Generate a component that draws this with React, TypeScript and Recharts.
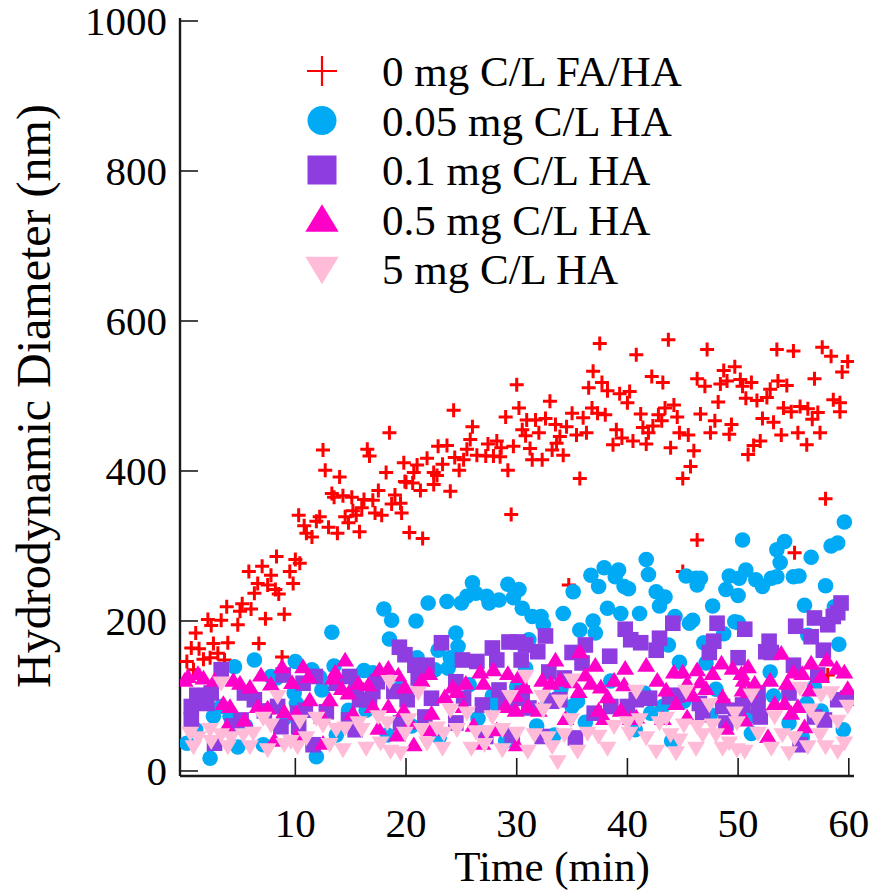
import React from 'react';
import { ScatterChart, Scatter, XAxis, YAxis, Legend } from 'recharts';

// time (min) ticks and diameter (nm) ticks
const xTicks = [10, 20, 30, 40, 50, 60];
const yTicks = [0, 200, 400, 600, 800, 1000];

// [time min, diameter nm]
const noHa: [number, number][] = [
  [0.2, 146], [0.6, 164], [0.8, 135], [1.0, 184], [1.3, 163], [1.7, 149], [2.1, 202], [2.3, 151], [2.4, 194],
  [2.6, 170], [3.0, 157], [3.3, 201], [3.6, 148], [3.8, 219], [3.9, 171], [4.8, 195], [5.0, 213], [5.2, 223],
  [5.8, 266], [6.0, 216], [6.3, 237], [6.6, 250], [6.7, 170], [7.0, 273], [7.3, 203], [7.5, 248], [7.8, 261],
  [8.2, 242], [8.3, 286], [8.5, 236], [8.8, 152], [9.0, 209], [9.5, 266], [9.8, 250], [10.0, 282], [10.3, 341],
  [10.4, 277], [10.8, 327], [11.0, 317], [11.5, 312], [11.9, 333], [12.2, 339], [12.5, 428], [12.7, 401],
  [13.0, 325], [13.3, 370], [13.5, 365], [13.8, 317], [14.0, 392], [14.3, 367], [14.5, 339], [14.8, 331],
  [15.1, 365], [15.2, 347], [15.5, 341], [15.8, 319], [16.0, 351], [16.2, 362], [16.5, 429], [16.7, 420],
  [17.0, 361], [17.2, 344], [17.5, 374], [17.8, 341], [18.2, 398], [18.5, 451], [18.7, 356], [19.0, 368],
  [19.5, 357], [19.6, 344], [19.8, 411], [19.9, 386], [20.0, 385], [20.3, 318], [20.6, 384], [20.7, 398],
  [21.0, 408], [21.3, 374], [21.5, 310], [21.9, 417], [22.5, 398], [22.5, 382], [22.8, 394], [22.9, 433],
  [23.3, 409], [23.7, 434], [24.0, 373], [24.3, 481], [24.4, 418], [24.8, 401], [25.2, 415], [25.5, 429],
  [25.8, 442], [26.0, 459], [26.4, 421], [27.2, 420], [27.4, 436], [27.9, 420], [28.2, 440], [28.5, 419],
  [28.6, 431], [29.0, 472], [29.2, 401], [29.5, 342], [29.7, 433], [30.0, 515], [30.2, 484], [30.5, 455],
  [30.8, 447], [30.9, 468], [31.2, 430], [31.4, 415], [31.7, 468], [32.0, 451], [32.3, 415], [32.6, 470],
  [33.0, 493], [33.2, 428], [33.5, 462], [33.6, 437], [33.9, 446], [34.2, 421], [34.5, 459], [34.7, 248],
  [35.0, 477], [35.4, 448], [35.7, 390], [36.0, 471], [36.3, 451], [36.5, 511], [36.8, 484], [36.9, 533],
  [37.3, 477], [37.5, 570], [37.7, 518], [38.0, 475], [38.2, 507], [38.7, 435], [39.0, 455], [39.3, 503],
  [39.5, 444], [40.0, 491], [40.2, 506], [40.5, 440], [40.8, 555], [41.2, 476], [41.4, 458], [41.7, 436],
  [41.9, 451], [42.2, 526], [42.3, 460], [42.8, 475], [43.1, 467], [43.2, 518], [43.4, 484], [43.7, 575],
  [43.9, 431], [44.2, 488], [44.5, 472], [44.7, 451], [45.0, 390], [45.0, 266], [45.5, 448], [45.7, 406],
  [46.0, 427], [46.3, 523], [46.3, 308], [46.6, 476], [47.0, 513], [47.2, 562], [47.5, 451], [47.9, 467],
  [48.2, 492], [48.4, 516], [48.7, 534], [49.0, 520], [49.2, 449], [49.4, 462], [49.7, 539], [50.2, 522],
  [50.4, 513], [50.7, 497], [50.9, 422], [51.2, 518], [51.4, 434], [51.7, 494], [52.0, 440], [52.2, 470],
  [52.6, 498], [52.9, 509], [53.2, 465], [53.5, 562], [53.6, 520], [53.9, 448], [54.1, 484], [54.4, 514],
  [54.8, 479], [55.0, 560], [55.1, 291], [55.4, 451], [55.6, 486], [56.2, 435], [56.3, 483], [56.7, 469],
  [56.9, 523], [57.2, 478], [57.4, 451], [57.6, 565], [57.9, 363], [58.1, 128], [58.4, 553], [58.6, 495],
  [59.2, 491], [59.2, 479], [59.4, 532], [59.9, 546],
];

const ha005: [number, number][] = [
  [0.2, 37], [1.0, 55], [2.3, 17], [2.6, 73], [3.3, 86], [4.1, 73], [4.5, 139], [4.8, 32], [5.5, 60],
  [6.3, 148], [7.1, 35], [7.8, 126], [8.3, 124], [9.0, 70], [9.9, 104], [10.0, 146], [10.1, 90], [11.5, 135],
  [11.9, 19], [12.2, 125], [12.4, 108], [13.3, 185], [13.5, 140], [13.7, 48], [14.8, 81], [15.2, 124],
  [16.2, 134], [16.4, 81], [17.0, 131], [18.0, 216], [18.3, 48], [18.5, 176], [18.7, 201], [19.5, 111],
  [20.5, 60], [20.9, 200], [21.0, 151], [22.0, 224], [22.6, 135], [22.9, 161], [23.0, 45], [23.7, 226],
  [23.8, 137], [24.0, 151], [24.5, 184], [24.7, 166], [25.0, 224], [25.5, 233], [25.7, 115], [26.0, 251],
  [26.3, 237], [26.5, 70], [27.3, 233], [27.5, 224], [27.8, 100], [28.2, 88], [28.4, 228], [29.0, 40],
  [29.2, 249], [29.7, 231], [30.0, 112], [30.2, 242], [30.5, 217], [30.8, 137], [31.1, 175], [31.4, 206],
  [31.8, 60], [32.2, 206], [32.4, 195], [32.8, 95], [33.4, 48], [34.0, 110], [34.2, 210], [35.0, 86],
  [35.1, 239], [35.5, 93], [35.7, 188], [36.2, 65], [36.7, 261], [36.9, 200], [37.1, 184], [37.4, 246],
  [37.9, 271], [38.2, 217], [38.5, 120], [38.9, 259], [39.2, 268], [39.4, 210], [39.7, 246], [40.1, 243],
  [40.7, 55], [41.1, 210], [41.5, 104], [41.7, 282], [41.9, 262], [42.1, 77], [42.6, 239], [42.9, 220],
  [43.2, 86], [43.4, 232], [43.7, 168], [44.0, 40], [44.3, 206], [44.7, 145], [45.1, 93], [45.3, 260],
  [45.6, 197], [45.9, 201], [46.2, 257], [46.3, 248], [46.6, 257], [46.9, 171], [47.1, 144], [47.5, 75],
  [47.7, 220], [48.0, 109], [48.7, 183], [48.9, 242], [49.2, 260], [49.7, 199], [50.0, 234], [50.0, 198],
  [50.1, 257], [50.4, 308], [50.7, 268], [50.9, 72], [51.2, 50], [51.6, 255], [52.2, 246], [52.9, 132],
  [53.0, 257], [53.2, 100], [53.5, 259], [53.5, 295], [53.8, 278], [54.2, 306], [54.6, 64], [55.0, 259],
  [55.5, 260], [55.8, 45], [56.0, 221], [56.2, 90], [56.3, 181], [56.6, 285], [56.9, 112], [57.5, 80],
  [57.9, 247], [58.4, 300], [58.7, 219], [59.0, 304], [59.1, 169], [59.5, 55], [59.6, 332],
];

const ha01: [number, number][] = [
  [0.6, 86], [0.6, 68], [1.1, 101], [1.2, 97], [2.0, 90], [2.4, 104], [2.7, 37], [3.3, 135], [4.3, 60],
  [5.1, 68], [5.4, 104], [6.3, 95], [7.2, 80], [8.4, 86], [8.7, 59], [8.9, 128], [10.2, 77], [10.3, 59],
  [10.7, 117], [10.9, 81], [11.6, 35], [11.8, 126], [12.8, 79], [13.7, 117], [14.8, 68], [14.9, 126],
  [15.4, 55], [15.5, 108], [15.8, 95], [16.7, 95], [17.0, 106], [17.4, 119], [18.9, 106], [19.4, 165],
  [19.5, 64], [19.9, 155], [20.1, 95], [20.8, 141], [21.1, 124], [21.7, 72], [21.9, 141], [22.3, 97],
  [23.2, 171], [24.5, 119], [24.5, 64], [25.1, 148], [25.2, 97], [26.4, 146], [26.9, 88], [27.2, 46],
  [27.8, 164], [28.2, 148], [28.4, 108], [29.0, 90], [29.3, 172], [29.6, 48], [30.1, 172], [30.2, 97],
  [30.4, 148], [30.5, 104], [30.8, 168], [31.1, 84], [31.9, 159], [32.3, 46], [32.6, 180], [32.9, 132],
  [33.2, 93], [33.9, 95], [34.3, 124], [35.0, 158], [35.3, 44], [35.9, 144], [36.2, 168], [37.0, 77],
  [38.4, 153], [38.5, 86], [39.8, 189], [40.0, 86], [40.3, 175], [40.8, 95], [41.2, 171], [42.0, 97],
  [42.6, 161], [42.9, 177], [43.8, 99], [44.1, 197], [44.5, 101], [46.5, 90], [46.8, 75], [47.4, 158],
  [47.8, 173], [48.1, 197], [48.6, 86], [48.9, 64], [49.8, 81], [50.0, 151], [50.4, 88], [50.6, 189],
  [50.9, 97], [51.8, 104], [51.8, 86], [52.0, 72], [52.5, 159], [52.8, 173], [53.0, 158], [54.6, 104],
  [55.0, 141], [55.2, 193], [55.6, 35], [56.6, 179], [56.9, 204], [56.9, 72], [57.2, 128], [57.7, 161],
  [57.8, 68], [58.1, 195], [58.6, 206], [59.0, 211], [59.0, 95], [59.3, 224], [59.9, 97],
];

const ha05: [number, number][] = [
  [0.0, 121], [0.3, 126], [1.2, 130], [1.7, 124], [2.7, 121], [3.5, 90], [3.8, 59], [4.1, 86], [4.4, 121],
  [5.0, 117], [5.4, 68], [5.9, 112], [6.6, 86], [6.9, 128], [7.5, 84], [7.8, 116], [8.1, 41], [8.8, 139],
  [9.0, 79], [9.7, 118], [10.1, 77], [10.1, 46], [10.7, 139], [11.2, 126], [11.3, 95], [12.4, 72], [12.5, 37],
  [13.1, 95], [13.4, 124], [13.6, 132], [14.2, 110], [14.5, 148], [14.8, 104], [15.2, 77], [15.7, 117],
  [16.6, 115], [17.0, 86], [17.5, 57], [17.6, 135], [18.4, 137], [18.4, 86], [19.2, 48], [19.3, 128],
  [19.8, 81], [19.9, 112], [20.4, 64], [20.7, 35], [21.4, 121], [22.1, 130], [22.2, 55], [22.3, 77],
  [23.5, 99], [24.2, 112], [24.6, 106], [25.2, 86], [25.4, 117], [26.1, 61], [26.7, 132], [26.9, 37],
  [27.0, 117], [27.9, 135], [28.2, 55], [29.0, 86], [29.2, 130], [29.9, 101], [29.9, 81], [30.0, 35],
  [30.2, 126], [30.7, 112], [31.0, 86], [32.0, 81], [32.3, 121], [33.1, 117], [33.5, 148], [33.9, 121],
  [34.4, 70], [35.0, 119], [35.6, 106], [35.7, 159], [36.2, 128], [36.7, 117], [37.1, 141], [37.4, 81],
  [37.6, 112], [37.9, 70], [38.2, 99], [38.8, 121], [39.4, 81], [39.7, 115], [39.8, 137], [40.3, 70],
  [40.8, 72], [41.7, 141], [42.7, 121], [43.2, 70], [43.5, 108], [44.2, 132], [44.4, 90], [45.0, 132],
  [45.4, 117], [45.4, 72], [45.9, 101], [46.3, 135], [46.6, 119], [47.1, 110], [47.7, 130], [48.5, 144],
  [48.6, 99], [48.9, 57], [49.5, 137], [50.3, 130], [50.4, 108], [50.5, 121], [50.6, 68], [50.9, 139],
  [51.0, 106], [51.5, 117], [52.7, 46], [52.9, 121], [53.3, 90], [53.9, 157], [54.2, 90], [54.4, 117],
  [54.8, 77], [55.0, 132], [55.4, 86], [55.8, 130], [56.0, 59], [56.5, 108], [56.6, 144], [57.5, 126],
  [58.0, 148], [58.9, 137], [59.6, 132], [59.9, 110],
];

const ha5: [number, number][] = [
  [0.5, 50], [0.8, 32], [1.2, 44], [2.3, 55], [2.4, 39], [3.3, 117], [3.3, 48], [3.9, 32], [4.2, 44],
  [5.3, 48], [5.9, 32], [6.2, 50], [7.1, 70], [7.5, 28], [7.8, 61], [8.4, 99], [9.0, 35], [9.6, 39],
  [10.2, 32], [10.4, 66], [11.0, 44], [11.9, 70], [12.5, 61], [13.1, 35], [13.7, 55], [14.3, 28], [14.5, 57],
  [15.7, 64], [16.0, 55], [16.4, 30], [17.5, 72], [17.7, 37], [18.3, 64], [18.5, 119], [18.6, 26], [19.5, 24],
  [19.9, 50], [20.2, 68], [21.1, 104], [21.4, 55], [21.9, 37], [22.8, 57], [23.3, 30], [23.4, 50], [24.0, 81],
  [24.6, 55], [25.5, 77], [25.9, 30], [26.3, 52], [27.1, 35], [27.3, 52], [27.8, 72], [28.7, 55], [28.7, 28],
  [29.4, 99], [30.0, 50], [30.8, 126], [31.0, 26], [31.6, 48], [32.3, 99], [32.4, 81], [32.8, 44], [33.2, 32],
  [33.7, 12], [33.9, 93], [34.3, 48], [34.9, 68], [35.0, 121], [35.5, 26], [36.4, 50], [37.4, 46], [38.2, 30],
  [38.8, 59], [40.0, 64], [40.2, 50], [40.8, 106], [41.1, 68], [41.7, 44], [42.6, 26], [42.9, 64], [43.5, 70],
  [43.9, 48], [44.4, 24], [44.7, 41], [45.1, 61], [45.3, 106], [46.2, 30], [46.3, 59], [46.8, 48], [47.4, 88],
  [47.7, 61], [48.0, 48], [48.6, 30], [49.2, 37], [49.7, 77], [49.9, 64], [49.9, 28], [50.6, 26], [51.2, 101],
  [51.8, 50], [53.0, 30], [53.3, 72], [54.0, 48], [54.6, 24], [55.1, 44], [55.6, 110], [56.3, 32], [56.5, 81],
  [57.1, 70], [57.4, 48], [57.5, 101], [57.9, 32], [58.4, 104], [59.0, 66], [59.0, 26], [59.6, 37], [59.9, 86],
];

const FONT = '"Liberation Serif", "Times New Roman", serif';
const INK = '#1a1a1a';

type Kind = 'cross' | 'circle' | 'square' | 'up' | 'down';

const series: { name: string; rows: [number, number][]; color: string; kind: Kind }[] = [
  { name: '0 mg C/L FA/HA', rows: noHa, color: '#ff0000', kind: 'cross' },
  { name: '0.05 mg C/L HA', rows: ha005, color: '#00aaf5', kind: 'circle' },
  { name: '0.1 mg C/L HA', rows: ha01, color: '#8e3de0', kind: 'square' },
  { name: '0.5 mg C/L HA', rows: ha05, color: '#ff00c8', kind: 'up' },
  { name: '5 mg C/L HA', rows: ha5, color: '#ffbbd7', kind: 'down' },
];

function Marker({ kind, cx, cy, color, r, sw = 2.6 }: { kind: Kind; cx: number; cy: number; color: string; r: number; sw?: number }) {
  if (cx == null || cy == null) return null;
  if (kind === 'cross')
    return <path d={`M${cx - r},${cy}H${cx + r}M${cx},${cy - r}V${cy + r}`} stroke={color} strokeWidth={sw} fill="none" />;
  if (kind === 'circle') return <circle cx={cx} cy={cy} r={r} fill={color} />;
  if (kind === 'square') return <rect x={cx - r} y={cy - r} width={2 * r} height={2 * r} fill={color} />;
  if (kind === 'up')
    return <path d={`M${cx},${cy - r * 1.05}L${cx + r * 1.15},${cy + r * 0.85}L${cx - r * 1.15},${cy + r * 0.85}Z`} fill={color} />;
  return <path d={`M${cx - r * 1.15},${cy - r * 0.85}L${cx + r * 1.15},${cy - r * 0.85}L${cx},${cy + r * 1.05}Z`} fill={color} />;
}

const TICK = 18;

const BottomTick = (p: any) => (
  <g>
    <line x1={p.x} x2={p.x} y1={p.y} y2={p.y - TICK} stroke={INK} strokeWidth={1.6} />
    <text x={p.x} y={p.y + 61} textAnchor="middle" fontFamily={FONT} fontSize={41} fill="#000">
      {p.payload.value}
    </text>
  </g>
);

const TopTick = (p: any) => <line x1={p.x} x2={p.x} y1={p.y} y2={p.y + TICK} stroke={INK} strokeWidth={1.6} />;

const LeftTick = (p: any) => (
  <g>
    <line x1={p.x} x2={p.x + TICK} y1={p.y} y2={p.y} stroke={INK} strokeWidth={1.6} />
    <text x={p.x - 13} y={p.y + 14} textAnchor="end" fontFamily={FONT} fontSize={41} fill="#000">
      {p.payload.value}
    </text>
  </g>
);

const RightTick = (p: any) => <line x1={p.x} x2={p.x - TICK} y1={p.y} y2={p.y} stroke={INK} strokeWidth={1.6} />;

const LegendBox = () => (
  <svg width={420} height={270}>
    {series.map((s, i) => {
      const cy = 31 + i * 49.5;
      return (
        <g key={s.name}>
          <Marker kind={s.kind} cx={42} cy={cy} color={s.color} r={s.kind === 'cross' ? 15 : 14.5} sw={2.2} />
          <text x={102} y={cy + 15} fontFamily={FONT} fontSize={43} fill="#000">
            {s.name}
          </text>
        </g>
      );
    })}
  </svg>
);

const axisLine = { stroke: INK, strokeWidth: 2.4 };

export default function App() {
  return (
    <div style={{ position: 'absolute', left: 0, top: 0, background: '#fff' }}>
      <ScatterChart width={871} height={890} margin={{ top: 18, right: 17, bottom: 0, left: 0 }}>
        <XAxis
          xAxisId="b"
          type="number"
          dataKey="t"
          orientation="bottom"
          domain={[-0.42, 60.47]}
          allowDataOverflow
          ticks={xTicks}
          interval={0}
          height={114}
          tickSize={0}
          tickMargin={0}
          tickLine={false}
          axisLine={axisLine}
          tick={<BottomTick />}
          label={{
            content: () => (
              <text x={552} y={881} textAnchor="middle" fontFamily={FONT} fontSize={43} fill="#000">
                Time (min)
              </text>
            ),
          }}
        />
        <XAxis
          xAxisId="t"
          type="number"
          dataKey="t"
          orientation="top"
          domain={[-0.42, 60.47]}
          allowDataOverflow
          ticks={xTicks}
          interval={0}
          height={0}
          tickSize={0}
          tickMargin={0}
          tickLine={false}
          axisLine={axisLine}
          tick={<TopTick />}
        />
        <YAxis
          yAxisId="l"
          type="number"
          dataKey="d"
          domain={[-6.7, 1004]}
          allowDataOverflow
          ticks={yTicks}
          interval={0}
          width={180}
          tickSize={0}
          tickMargin={0}
          tickLine={false}
          axisLine={axisLine}
          tick={<LeftTick />}
          label={{
            content: () => (
              <text
                x={50}
                y={396}
                transform="rotate(-90 50 396)"
                textAnchor="middle"
                fontFamily={FONT}
                fontSize={48}
                fill="#000"
              >
                Hydrodynamic Diameter (nm)
              </text>
            ),
          }}
        />
        <YAxis
          yAxisId="r"
          type="number"
          dataKey="d"
          orientation="right"
          domain={[-6.7, 1004]}
          allowDataOverflow
          ticks={yTicks}
          interval={0}
          width={0}
          tickSize={0}
          tickMargin={0}
          tickLine={false}
          axisLine={axisLine}
          tick={<RightTick />}
        />
        <Legend
          layout="vertical"
          align="center"
          verticalAlign="middle"
          content={LegendBox}
          wrapperStyle={{ left: 280, top: 40, width: 420, height: 270 }}
        />
        {series.map((s) => (
          <Scatter
            key={s.name}
            name={s.name}
            xAxisId="b"
            yAxisId="l"
            data={s.rows.map(([t, d]) => ({ t, d }))}
            fill={s.color}
            isAnimationActive={false}
            shape={(p: any) => (
              <Marker kind={s.kind} cx={p.cx} cy={p.cy} color={s.color} r={s.kind === 'cross' ? 7 : 7.8} sw={3} />
            )}
          />
        ))}
      </ScatterChart>
    </div>
  );
}
